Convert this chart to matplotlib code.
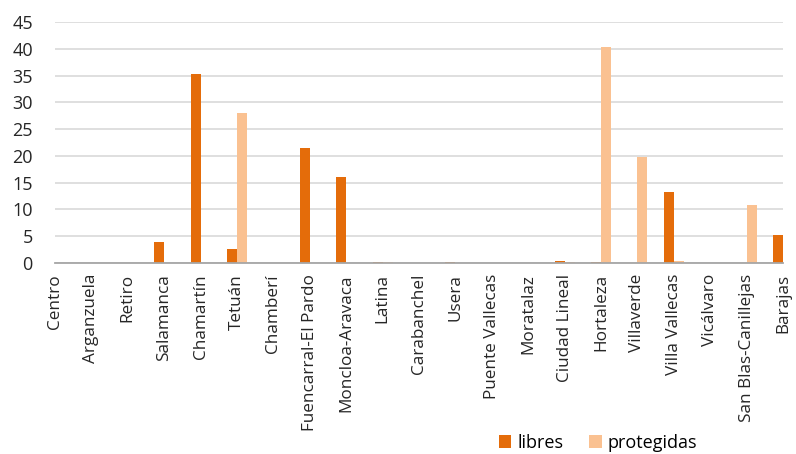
import numpy as np
import matplotlib
matplotlib.use('Agg')
import matplotlib.pyplot as plt

plt.rcParams['font.family'] = ['Open Sans', 'DejaVu Sans']

# Datos por distrito
distritos = ['Centro', 'Arganzuela', 'Retiro', 'Salamanca', 'Chamartín', 'Tetuán',
             'Chamberí', 'Fuencarral-El Pardo', 'Moncloa-Aravaca', 'Latina',
             'Carabanchel', 'Usera', 'Puente Vallecas', 'Moratalaz', 'Ciudad Lineal',
             'Hortaleza', 'Villaverde', 'Villa Vallecas', 'Vicálvaro',
             'San Blas-Canillejas', 'Barajas']
libres = [0, 0, 0, 4.0, 35.2, 2.7, 0, 21.5, 16.0, 0.15, 0, 0.15, 0, 0, 0.4,
          0.15, 0, 13.3, 0, 0, 5.3]
protegidas = [0, 0, 0, 0, 0, 28.0, 0, 0, 0, 0.1, 0, 0, 0, 0, 0.1,
              40.4, 19.8, 0.3, 0, 10.8, 0]

col_libres = '#E46C0A'
col_prot = '#FAC191'

fig = plt.figure(figsize=(7.96, 4.54), dpi=100)
ax = fig.add_axes([55 / 796, 1 - 263 / 454, (783 - 55) / 796, (263 - 22) / 454])

x = np.arange(len(distritos))
w = 0.275
ax.bar(x - w / 2, libres, width=w, color=col_libres, label='libres', zorder=3)
ax.bar(x + w / 2, protegidas, width=w, color=col_prot, label='protegidas', zorder=3)

ax.set_xlim(0, len(distritos) - 1)
ax.set_ylim(0, 45)
ax.set_yticks(range(0, 50, 5))
ax.yaxis.grid(True, color='#D9D9D9', linewidth=1.2, zorder=0)
ax.set_axisbelow(True)

for s in ['top', 'right', 'left']:
    ax.spines[s].set_visible(False)
ax.spines['bottom'].set_color('#A6A6A6')
ax.spines['bottom'].set_linewidth(1.3)
ax.spines['bottom'].set_zorder(4)

ax.set_xticks(x)
ax.set_xticklabels(distritos, rotation=90, fontsize=12.3, color='#262626')
ax.tick_params(axis='x', length=0, pad=8)
ax.tick_params(axis='y', length=0, pad=16, labelsize=13, labelcolor='#262626')

fig.legend(loc='center', bbox_to_anchor=(598 / 796, 1 - 443 / 454), ncol=2,
           frameon=False, fontsize=13, handlelength=0.7, handleheight=0.7,
           columnspacing=1.4, handletextpad=0.35)

fig.savefig('out.png', dpi=100)
